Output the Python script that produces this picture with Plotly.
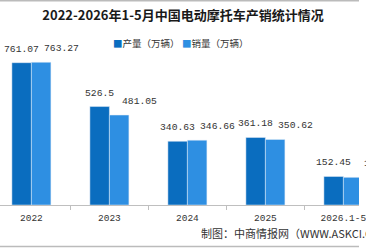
import plotly.graph_objects as go

categories = ["2022", "2023", "2024", "2025", "2026.1-5"]
production = [761.07, 526.5, 340.63, 361.18, 152.45]
sales = [763.27, 481.05, 346.66, 350.62, 148.0]
prod_labels = ["761.07", "526.5", "340.63", "361.18", "152.45"]
sales_labels = ["763.27", "481.05", "346.66", "350.62", "148"]
series_names = ["产量（万辆）", "销量（万辆）"]
colors = ["#0A6DBF", "#2E8FE2"]

W, H = 366, 248
mt, mb = 40, 43
ph = H - mt - mb

lab_font = dict(family="Liberation Mono, DejaVu Sans Mono, monospace", size=9.7, color="#333333")

fig = go.Figure()
for name, vals, col in [(series_names[0], production, colors[0]),
                        (series_names[1], sales, colors[1])]:
    fig.add_trace(go.Bar(name=name, x=categories, y=vals, marker_color=col,
                         showlegend=False, hoverinfo="x+y"))

# value labels (sales labels sit offset to the right as in the source)
for vals, labs, xs in [(production, prod_labels, -10), (sales, sales_labels, 30)]:
    for i, (v, t) in enumerate(zip(vals, labs)):
        fig.add_annotation(x=i, y=v, text=t, xref="x", yref="y", showarrow=False,
                           xanchor="center", yanchor="bottom", xshift=xs, yshift=6,
                           font=lab_font)

fig.update_layout(
    width=W, height=H,
    margin=dict(l=0, r=0, t=mt, b=mb),
    paper_bgcolor="white", plot_bgcolor="white",
    barmode="group", bargap=0.5, bargroupgap=0,
    title=dict(text="<b>2022-2026年1-5月中国电动摩托车产销统计情况</b>",
               x=0.5, xanchor="center", y=1 - 15 / H, yanchor="middle",
               font=dict(family="Noto Sans CJK SC", size=13, color="#1a1a1a")),
    xaxis=dict(type="category", range=[-0.4025, 4.2], showgrid=False, showline=True,
               linecolor="#BFBFBF", linewidth=1, ticks="outside", tickson="boundaries",
               ticklen=4, tickcolor="#BFBFBF", ticklabelstandoff=4,
               tickfont=dict(family="Liberation Mono, DejaVu Sans Mono, monospace", size=9.5, color="#333333")),
    yaxis=dict(range=[0, ph / 0.187], visible=False, showgrid=False),
    font=dict(family="Noto Sans CJK SC"),
)

# legend drawn as text
leg_x = [113, 184]
for lx, name, col in zip(leg_x, series_names, colors):
    fig.add_annotation(text=f"<span style='color:{col}'>■</span>{name}", xref="paper", yref="paper",
                       x=lx / W, xanchor="left", y=(205 - 43) / ph, yanchor="middle",
                       showarrow=False,
                       font=dict(family="Noto Sans CJK SC", size=9.5, color="#333333"))

fig.add_annotation(text="制图：中商情报网（WWW.ASKCI.COM）", xref="paper", yref="paper",
                   x=203 / W, xanchor="left", y=(205 - 233) / ph, yanchor="middle",
                   showarrow=False,
                   font=dict(family="Noto Sans CJK SC", size=11, color="#333333"))

for py in (0.8, 246.5):
    fig.add_shape(type="line", xref="paper", yref="paper", x0=0, x1=1,
                  y0=(205 - py) / ph, y1=(205 - py) / ph,
                  line=dict(color="#BBBBBB", width=1.5))

fig.write_html("out.html")
